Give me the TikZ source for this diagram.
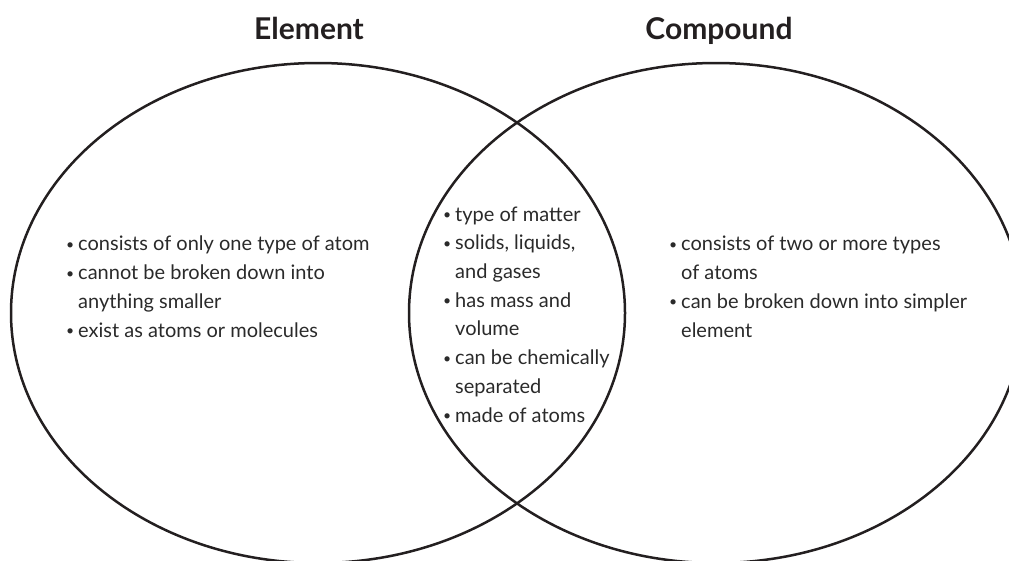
\documentclass[tikz,border=0pt]{standalone}
\usepackage{fontspec}
\setmainfont{Lato}
\definecolor{ink}{HTML}{231F20}
\definecolor{txt}{HTML}{2A2A2A}
\newcommand{\bul}{\makebox[12pt][l]{\raisebox{1.5pt}{\fontsize{14}{14}\selectfont\textbullet}}}
\newcommand{\ind}{\hspace*{12pt}}
\begin{document}
\begin{tikzpicture}[x=1pt, y=-1pt,
    venn/.style={draw=ink, line width=2.5pt},
    heading/.style={font=\fontsize{30}{34}\selectfont\bfseries, text=ink, anchor=base, inner sep=0pt},
    facts/.style={font=\fontsize{20}{28.7}\selectfont, text=txt, align=left, anchor=base west, inner sep=0pt}]
    \useasboundingbox (0,0) rectangle (1009,560);
    \clip (0,0) rectangle (1009,560);

    % 标题
    \node[heading] (elem) at (309,39) {Element};
    \node[heading] (comp) at (719,39) {Compound};

    % 两个椭圆
    \draw[venn] (318,313) ellipse [x radius=307, y radius=250];
    \draw[venn] (716,313) ellipse [x radius=307, y radius=250];

    % 左侧：元素（锚点在末行基线）
    \node[facts] (elemfacts) at (66,337) {\bul consists of only one type of atom\\
        \bul cannot be broken down into\\
        \ind anything smaller\\
        \bul exist as atoms or molecules};

    % 中间：共同点
    \node[facts] (common) at (443,422) {\bul type of matter\\
        \bul solids, liquids,\\
        \ind and gases\\
        \bul has mass and\\
        \ind volume\\
        \bul can be chemically\\
        \ind separated\\
        \bul made of atoms};

    % 右侧：化合物
    \node[facts] (compfacts) at (669,337) {\bul consists of two or more types\\
        \ind of atoms\\
        \bul can be broken down into simpler\\
        \ind element};
\end{tikzpicture}
\end{document}
